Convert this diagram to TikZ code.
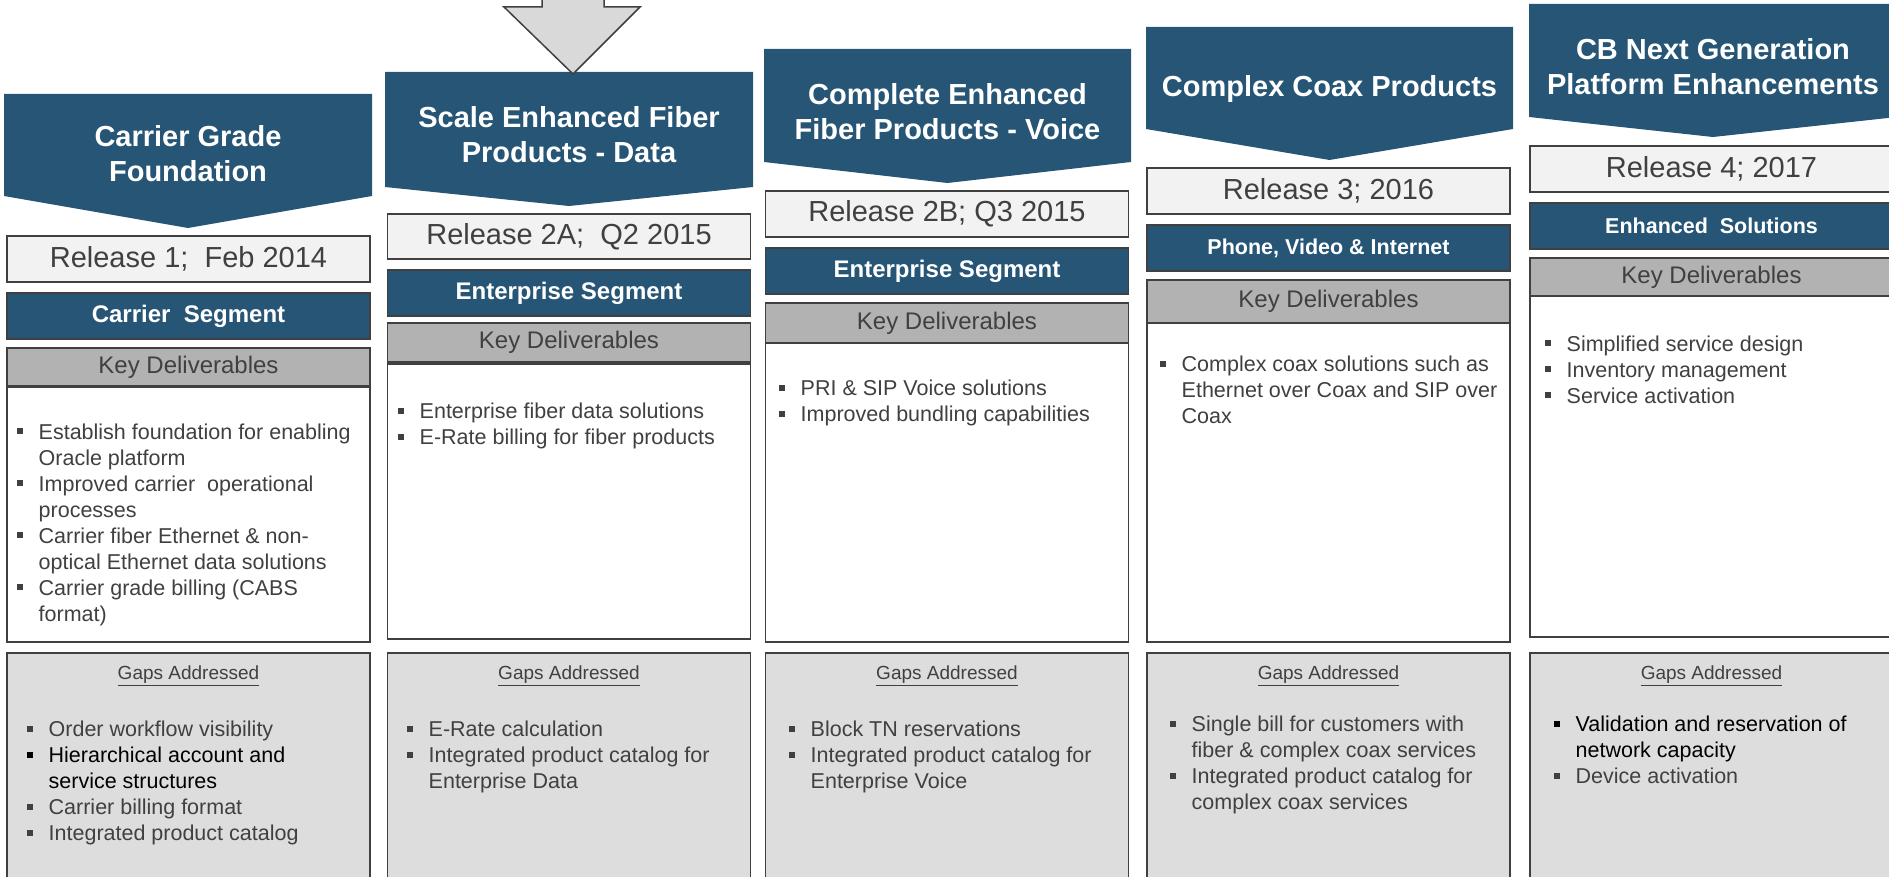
\documentclass[tikz,border=0pt]{standalone}
\usepackage{fontspec}
\setmainfont{Liberation Sans}
\usepackage{xcolor}
\definecolor{cbblue}{RGB}{38,85,117}
\definecolor{cbline}{RGB}{64,64,64}
\definecolor{cbtext}{RGB}{64,64,64}
\definecolor{cbrel}{RGB}{242,242,242}
\definecolor{cbkey}{RGB}{178,178,178}
\definecolor{cbgap}{RGB}{221,221,221}
\definecolor{cbarrow}{RGB}{217,217,217}
\newcommand{\bul}{\makebox[1em][l]{\rule[.24em]{.27em}{.27em}}}
\newcommand{\hangin}{\hspace*{1em}}

\begin{document}
\begin{tikzpicture}[x=1pt, y=-1pt,
  banner/.style={fill=cbblue},
  title/.style={text=white, font=\fontsize{29}{35}\selectfont\bfseries, align=center},
  relbox/.style={draw=cbline, line width=1.8pt, fill=cbrel, minimum width=363pt, anchor=north, text=cbtext, font=\fontsize{29}{34}\selectfont},
  segbox/.style={draw=cbline, line width=1.8pt, fill=cbblue, minimum width=363pt, anchor=north, text=white, font=\fontsize{24}{28}\selectfont\bfseries},
  keybox/.style={draw=cbline, line width=1.8pt, fill=cbkey, minimum width=363pt, anchor=north, text=cbtext, font=\fontsize{24}{28}\selectfont},
  delbox/.style={draw=cbline, line width=1.8pt, fill=white, minimum width=363pt, anchor=north},
  gapbox/.style={draw=cbline, line width=1.8pt, fill=cbgap, minimum width=363pt, minimum height=260pt, anchor=north},
  gaphead/.style={text=cbtext, font=\fontsize{19}{23}\selectfont},
  items/.style={anchor=north west, inner sep=0pt, align=left, text=cbtext, font=\fontsize{21.5}{26}\selectfont}]
  \useasboundingbox (0,0) rectangle (1889,877);
  \clip (0,0) rectangle (1889,877);

  \fill[banner] (4,94) -- (372,94) -- (372,196) -- (188,228) -- (4,196) -- cycle;
  \fill[banner] (385,72) -- (753,72) -- (753,187) -- (569,206) -- (385,187) -- cycle;
  \fill[banner] (764,49) -- (1131,49) -- (1131,162) -- (947.5,183) -- (764,162) -- cycle;
  \fill[banner] (1146,27) -- (1513,27) -- (1513,129) -- (1329.5,160) -- (1146,129) -- cycle;
  \fill[banner] (1529,4) -- (1897,4) -- (1897,117) -- (1713,137) -- (1529,117) -- cycle;
  \draw[fill=cbarrow, draw=cbline, line width=1.5pt] (542,-5) -- (542,7) -- (504,7) -- (573,74) -- (640,7) -- (604,7) -- (604,-5) -- cycle;

  \node[title] (t1) at (188,153.5) {Carrier Grade\\Foundation};
  \node[title] (t2) at (569,134.5) {Scale Enhanced Fiber\\Products - Data};
  \node[title] (t3) at (947.5,111.5) {Complete Enhanced\\Fiber Products - Voice};
  \node[title] (t4) at (1329.5,89.5) {Complex Coax Products};
  \node[title] (t5) at (1713,66.5) {CB Next Generation\\Platform Enhancements};

  \node[relbox, minimum height=46pt] (r1) at (188.5,235) {Release 1;~ Feb 2014};
  \node[relbox, minimum height=45pt] (r2) at (569,213) {Release 2A;~ Q2 2015};
  \node[relbox, minimum height=46pt] (r3) at (947,190) {Release 2B; Q3 2015};
  \node[relbox, minimum height=46pt] (r4) at (1328.5,167) {Release 3; 2016};
  \node[relbox, minimum height=46pt] (r5) at (1711.5,145) {Release 4; 2017};

  \node[segbox, minimum height=46pt] (s1) at (188.5,292) {Carrier~ Segment};
  \node[segbox, minimum height=46pt] (s2) at (569,269) {Enterprise Segment};
  \node[segbox, minimum height=46pt] (s3) at (947,247) {Enterprise Segment};
  \node[segbox, minimum height=46pt, font=\fontsize{21.5}{26}\selectfont\bfseries] (s4) at (1328.5,224) {Phone, Video \& Internet};
  \node[segbox, minimum height=46pt, font=\fontsize{21.5}{26}\selectfont\bfseries] (s5) at (1711.5,202) {Enhanced~ Solutions};

  \node[keybox, minimum height=38pt] (k1) at (188.5,347) {Key Deliverables};
  \node[keybox, minimum height=39pt] (k2) at (569,322) {Key Deliverables};
  \node[keybox, minimum height=40pt] (k3) at (947,302) {Key Deliverables};
  \node[keybox, minimum height=43pt] (k4) at (1328.5,279) {Key Deliverables};
  \node[keybox, minimum height=38pt] (k5) at (1711.5,257) {Key Deliverables};

  \node[delbox, minimum height=255pt] (d1) at (188.5,386) {};
  \node[delbox, minimum height=275pt] (d2) at (569,363) {};
  \node[delbox, minimum height=299pt] (d3) at (947,342) {};
  \node[delbox, minimum height=319pt] (d4) at (1328.5,322) {};
  \node[delbox, minimum height=341pt] (d5) at (1711.5,295) {};

  \node[gapbox] (g1) at (188.5,652) {};
  \node[gapbox] (g2) at (569,652) {};
  \node[gapbox] (g3) at (947,652) {};
  \node[gapbox] (g4) at (1328.5,652) {};
  \node[gapbox] (g5) at (1711.5,652) {};

  \node[gaphead] (h1) at (188.5,676) {\underline{Gaps Addressed}};
  \node[gaphead] (h2) at (569,676) {\underline{Gaps Addressed}};
  \node[gaphead] (h3) at (947,676) {\underline{Gaps Addressed}};
  \node[gaphead] (h4) at (1328.5,676) {\underline{Gaps Addressed}};
  \node[gaphead] (h5) at (1711.5,676) {\underline{Gaps Addressed}};

  \node[items] (di1) at (17,423.5) {\bul Establish foundation for enabling\\ \hangin Oracle platform\\ \bul Improved carrier~ operational\\ \hangin processes\\ \bul Carrier fiber Ethernet \& non-\\ \hangin optical Ethernet data solutions\\ \bul Carrier grade billing (CABS\\ \hangin format)};
  \node[items] (di2) at (398,403) {\bul Enterprise fiber data solutions\\ \bul E-Rate billing for fiber products};
  \node[items] (di3) at (779,380) {\bul PRI \& SIP Voice solutions\\ \bul Improved bundling capabilities};
  \node[items] (di4) at (1160,356) {\bul Complex coax solutions such as\\ \hangin Ethernet over Coax and SIP over\\ \hangin Coax};
  \node[items] (di5) at (1545,335.5) {\bul Simplified service design\\ \bul Inventory management\\ \bul Service activation};

  \node[items] (gi1) at (27,721) {\bul Order workflow visibility\\ \textcolor{black}{\bul Hierarchical account and}\\ \hangin\textcolor{black}{service structures}\\ \bul Carrier billing format\\ \bul Integrated product catalog};
  \node[items] (gi2) at (407,721) {\bul E-Rate calculation\\ \bul Integrated product catalog for\\ \hangin Enterprise Data};
  \node[items] (gi3) at (789,721) {\bul Block TN reservations\\ \bul Integrated product catalog for\\ \hangin Enterprise Voice};
  \node[items] (gi4) at (1170,716) {\bul Single bill for customers with\\ \hangin fiber \& complex coax services\\ \bul Integrated product catalog for\\ \hangin complex coax services};
  \node[items] (gi5) at (1554,716) {\textcolor{black}{\bul Validation and reservation of}\\ \hangin\textcolor{black}{network capacity}\\ \bul Device activation};
\end{tikzpicture}
\end{document}
